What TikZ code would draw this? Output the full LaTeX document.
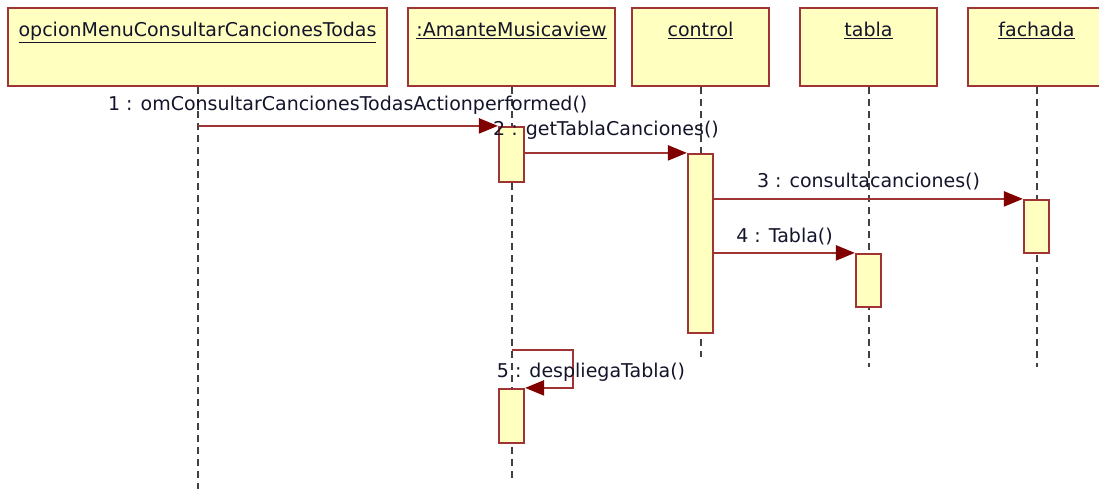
\documentclass[tikz,border=0pt]{standalone}
\usepackage{fontspec}
\setmainfont{DejaVu Sans}
\usetikzlibrary{arrows.meta}
\usetikzlibrary{positioning}
\definecolor{umlfill}{HTML}{FFFFC0}
\definecolor{umlborder}{HTML}{A03333}
\definecolor{umlarrow}{HTML}{800000}
\definecolor{umltext}{HTML}{14142A}
\tikzstyle{object} = [rectangle, draw=umlborder, fill=umlfill, line width=2.2pt,
    minimum height=78pt, inner ysep=15pt, text height=14pt, text depth=34pt,
    font=\fontsize{19}{21}\selectfont, text=umltext]
\tikzstyle{activation} = [rectangle, draw=umlborder, fill=umlfill, line width=2.2pt,
    minimum width=25pt, inner sep=0pt]
\tikzstyle{lifeline} = [draw=black!75, line width=2pt, dash pattern=on 7pt off 5pt]
\tikzstyle{msg} = [draw=umlborder, line width=2.2pt,
    -{Triangle[length=19pt,width=15pt,fill=umlarrow,color=umlarrow]}]
\tikzstyle{msglabel} = [inner sep=0pt, text=umltext, font=\fontsize{19}{21}\selectfont]

\begin{document}
\begin{tikzpicture}[x=1pt, y=-1pt]
  \useasboundingbox (0,0) rectangle (1099,489);
  % Place nodes
  \node [object, minimum width=379pt] (opcion) at (197.5,47) {\underline{opcionMenuConsultarCancionesTodas}};
  \node [object, minimum width=207pt] (vista) at (511.5,47) {\underline{:AmanteMusicaview}};
  \node [object, minimum width=137pt] (control) at (700.5,47) {\underline{control}};
  \node [object, minimum width=137pt] (tabla) at (868.5,47) {\underline{tabla}};
  \node [object, minimum width=137pt] (fachada) at (1036.5,47) {\underline{fachada}};

  % lifelines
  \coordinate (opcion end) at (197.5,489);
  \coordinate (vista end) at (511.5,478);
  \coordinate (control end) at (700.5,357);
  \coordinate (tabla end) at (868.5,367);
  \coordinate (fachada end) at (1036.5,367);
  \path [lifeline] (opcion.south) -- (opcion end);
  \path [lifeline] (vista.south) -- (vista end);
  \path [lifeline] (control.south) -- (control end);
  \path [lifeline] (tabla.south) -- (tabla end);
  \path [lifeline] (fachada.south) -- (fachada end);

  % activations
  \node [activation, minimum height=55pt] (a1) at (511.5,154.5) {};
  \node [activation, minimum height=179pt] (a2) at (700.5,243.5) {};
  \node [activation, minimum height=53pt] (a3) at (1036.5,226.5) {};
  \node [activation, minimum height=53pt] (a4) at (868.5,280.5) {};
  \node [activation, minimum height=54pt] (a5) at (511.5,416) {};

  % messages
  \path [msg] (opcion.south |- a1.north west) -- node [msglabel, above=10pt] (m1) {1 : omConsultarCancionesTodasActionperformed()} (a1.north west);
  \path [msg] (a1.east |- a2.north west) -- node [msglabel, above=12pt] (m2) {2 : getTablaCanciones()} (a2.north west);
  \path [msg] (a2.east |- a3.north west) -- node [msglabel, above=8pt] (m3) {3 : consultacanciones()} (a3.north west);
  \path [msg] (a2.east |- a4.north west) -- node [msglabel, above=7pt] (m4) {4 : Tabla()} (a4.north west);

  \coordinate (turn) at (573,350);
  \path [msg] (vista.south |- turn) -- (turn) |- (a5.north east);
  \node [msglabel] (m5) at (591,372) {5 : despliegaTabla()};

\end{tikzpicture}
\end{document}
